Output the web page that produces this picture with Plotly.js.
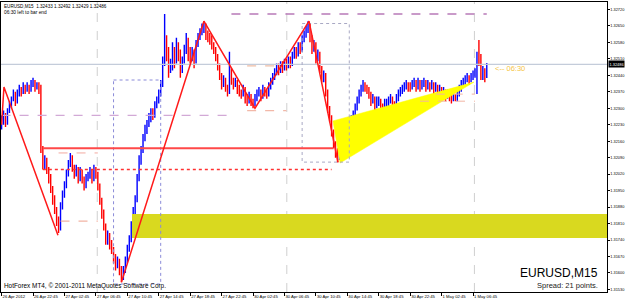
<!DOCTYPE html>
<html><head><meta charset="utf-8">
<script src="https://cdn.plot.ly/plotly-3.0.1.min.js"></script>
<style>html,body{margin:0;padding:0;background:#fff;overflow:hidden}#chart{width:625px;height:301px}</style>
</head><body><div id="chart"></div>
<script>
const symbol = 'EURUSD';
const timeframe = 'M15';
const spreadPoints = 21;
const timeLeft = '06:30';

const open = [
1.3222,1.3225,1.3227,1.3224,1.3229,1.3231,1.3234,1.3236,1.3233,1.3236,
1.3238,1.3237,1.3239,1.3238,1.3239,1.3238,1.3240,1.3241,1.3239,1.3240,
1.3238,1.3213,1.3206,1.3208,1.3204,1.3200,1.3196,1.3191,1.3187,1.3182,
1.3179,1.3189,1.3193,1.3197,1.3202,1.3206,1.3209,1.3205,1.3202,1.3204,
1.3200,1.3203,1.3200,1.3197,1.3200,1.3201,1.3203,1.3200,1.3204,1.3202,
1.3197,1.3191,1.3185,1.3180,1.3174,1.3176,1.3172,1.3170,1.3166,1.3163,
1.3165,1.3161,1.3158,1.3161,1.3165,1.3170,1.3174,1.3180,1.3186,1.3191,
1.3200,1.3208,1.3212,1.3217,1.3221,1.3223,1.3226,1.3228,1.3227,1.3231,
1.3233,1.3236,1.3240,1.3250,1.3259,1.3253,1.3246,1.3248,1.3255,1.3250,
1.3257,1.3253,1.3246,1.3250,1.3255,1.3259,1.3253,1.3251,1.3254,1.3250,
1.3257,1.3260,1.3262,1.3264,1.3265,1.3261,1.3260,1.3259,1.3257,1.3255,
1.3252,1.3248,1.3244,1.3240,1.3242,1.3239,1.3237,1.3246,1.3242,1.3240,
1.3241,1.3238,1.3237,1.3236,1.3238,1.3234,1.3233,1.3235,1.3233,1.3232,
1.3234,1.3236,1.3237,1.3235,1.3238,1.3237,1.3236,1.3239,1.3241,1.3243,
1.3245,1.3247,1.3246,1.3248,1.3247,1.3249,1.3248,1.3250,1.3249,1.3252,
1.3254,1.3253,1.3256,1.3255,1.3259,1.3261,1.3263,1.3265,1.3260,1.3255,
1.3257,1.3251,1.3253,1.3247,1.3243,1.3244,1.3237,1.3230,1.3226,1.3220,
1.3215,1.3211,1.3209,1.3214,1.3212,1.3218,1.3216,1.3223,1.3222,1.3225,
1.3227,1.3230,1.3233,1.3236,1.3238,1.3240,1.3239,1.3238,1.3236,1.3233,
1.3234,1.3231,1.3233,1.3233,1.3231,1.3230,1.3232,1.3232,1.3233,1.3234,
1.3232,1.3231,1.3234,1.3236,1.3237,1.3238,1.3239,1.3240,1.3239,1.3239,
1.3240,1.3241,1.3239,1.3241,1.3239,1.3240,1.3241,1.3239,1.3240,1.3239,
1.3240,1.3238,1.3239,1.3237,1.3238,1.3236,1.3237,1.3235,1.3236,1.3235,
1.3234,1.3235,1.3234,1.3236,1.3238,1.3240,1.3241,1.3242,1.3243,1.3242,
1.3243,1.3244,1.3245,1.3252,1.3249,1.3243,1.3246,1.32433];

const high = [
1.3227,1.3229,1.3228,1.3230,1.3233,1.3235,1.3238,1.3237,1.3238,1.3240,
1.3239,1.3241,1.3240,1.3241,1.3240,1.3242,1.3243,1.3242,1.3241,1.3241,
1.3240,1.3214,1.3210,1.3209,1.3205,1.3202,1.3197,1.3193,1.3188,1.3184,
1.3190,1.3195,1.3199,1.3204,1.3208,1.3211,1.3210,1.3206,1.3206,1.3205,
1.3205,1.3204,1.3201,1.3202,1.3203,1.3205,1.3204,1.3206,1.3205,1.3203,
1.3198,1.3192,1.3187,1.3181,1.3178,1.3177,1.3174,1.3171,1.3168,1.3167,
1.3166,1.3163,1.3163,1.3167,1.3172,1.3176,1.3182,1.3188,1.3193,1.3202,
1.3210,1.3214,1.3219,1.3223,1.3225,1.3228,1.3230,1.3230,1.3233,1.3235,
1.3238,1.3242,1.3252,1.3270,1.3261,1.3256,1.3251,1.3258,1.3256,1.3260,
1.3258,1.3255,1.3252,1.3257,1.3262,1.3260,1.3256,1.3256,1.3255,1.3259,
1.3262,1.3264,1.3266,1.3267,1.3266,1.3263,1.3262,1.3261,1.3258,1.3256,
1.3253,1.3249,1.3245,1.3244,1.3243,1.3240,1.3254,1.3247,1.3243,1.3243,
1.3242,1.3240,1.3238,1.3240,1.3239,1.3236,1.3237,1.3236,1.3234,1.3236,
1.3238,1.3239,1.3238,1.3240,1.3239,1.3238,1.3241,1.3243,1.3245,1.3247,
1.3249,1.3249,1.3250,1.3250,1.3251,1.3251,1.3252,1.3252,1.3254,1.3256,
1.3256,1.3258,1.3258,1.3261,1.3263,1.3265,1.3267,1.3266,1.3261,1.3259,
1.3258,1.3255,1.3254,1.3248,1.3246,1.3245,1.3238,1.3231,1.3227,1.3221,
1.3216,1.3213,1.3216,1.3215,1.3220,1.3219,1.3225,1.3225,1.3227,1.3229,
1.3232,1.3235,1.3238,1.3240,1.3242,1.3241,1.3240,1.3239,1.3237,1.3236,
1.3235,1.3235,1.3235,1.3234,1.3232,1.3234,1.3234,1.3235,1.3236,1.3235,
1.3233,1.3236,1.3238,1.3239,1.3240,1.3241,1.3242,1.3241,1.3241,1.3242,
1.3243,1.3242,1.3243,1.3242,1.3242,1.3243,1.3242,1.3242,1.3241,1.3242,
1.3241,1.3241,1.3240,1.3240,1.3239,1.3239,1.3238,1.3238,1.3237,1.3236,
1.3237,1.3236,1.3238,1.3240,1.3242,1.3243,1.3244,1.3245,1.3244,1.3245,
1.3246,1.3247,1.3254,1.3259,1.3253,1.3248,1.3247,1.32492];

const low = [
1.3221,1.3223,1.3222,1.3223,1.3228,1.3230,1.3233,1.3231,1.3232,1.3235,
1.3235,1.3236,1.3236,1.3237,1.3236,1.3237,1.3239,1.3237,1.3238,1.3236,
1.3211,1.3204,1.3204,1.3202,1.3198,1.3194,1.3189,1.3185,1.3180,1.3177,
1.3178,1.3187,1.3192,1.3196,1.3201,1.3205,1.3203,1.3200,1.3201,1.3198,
1.3199,1.3198,1.3195,1.3196,1.3199,1.3200,1.3198,1.3199,1.3200,1.3195,
1.3189,1.3183,1.3178,1.3172,1.3172,1.3170,1.3168,1.3164,1.3161,1.3162,
1.3159,1.3156,1.3157,1.3160,1.3164,1.3169,1.3173,1.3179,1.3185,1.3190,
1.3199,1.3206,1.3211,1.3216,1.3219,1.3222,1.3224,1.3225,1.3226,1.3230,
1.3232,1.3235,1.3239,1.3248,1.3250,1.3243,1.3245,1.3246,1.3247,1.3249,
1.3250,1.3243,1.3245,1.3249,1.3253,1.3250,1.3249,1.3250,1.3247,1.3249,
1.3256,1.3259,1.3261,1.3262,1.3259,1.3258,1.3257,1.3255,1.3253,1.3250,
1.3246,1.3242,1.3238,1.3239,1.3237,1.3235,1.3236,1.3240,1.3238,1.3239,
1.3236,1.3235,1.3234,1.3235,1.3232,1.3231,1.3232,1.3231,1.3230,1.3231,
1.3233,1.3235,1.3233,1.3234,1.3235,1.3234,1.3235,1.3238,1.3240,1.3242,
1.3244,1.3244,1.3245,1.3245,1.3246,1.3246,1.3247,1.3247,1.3248,1.3251,
1.3251,1.3252,1.3253,1.3254,1.3258,1.3260,1.3262,1.3258,1.3253,1.3254,
1.3249,1.3250,1.3245,1.3241,1.3241,1.3235,1.3228,1.3224,1.3218,1.3213,
1.3209,1.3207,1.3208,1.3210,1.3211,1.3214,1.3215,1.3220,1.3221,1.3224,
1.3226,1.3229,1.3232,1.3235,1.3237,1.3237,1.3236,1.3234,1.3231,1.3232,
1.3229,1.3230,1.3231,1.3229,1.3228,1.3229,1.3230,1.3231,1.3232,1.3230,
1.3229,1.3230,1.3233,1.3235,1.3236,1.3237,1.3238,1.3237,1.3237,1.3238,
1.3239,1.3237,1.3238,1.3237,1.3238,1.3239,1.3237,1.3238,1.3237,1.3238,
1.3236,1.3237,1.3235,1.3236,1.3234,1.3235,1.3233,1.3234,1.3233,1.3232,
1.3233,1.3233,1.3233,1.3235,1.3237,1.3239,1.3240,1.3241,1.3240,1.3241,
1.3242,1.3243,1.3236,1.3248,1.3242,1.3242,1.3241,1.32429];

const close = [
1.3225,1.3227,1.3224,1.3229,1.3231,1.3234,1.3236,1.3233,1.3236,1.3238,
1.3237,1.3239,1.3238,1.3239,1.3238,1.3240,1.3241,1.3239,1.3240,1.3238,
1.3213,1.3206,1.3208,1.3204,1.3200,1.3196,1.3191,1.3187,1.3182,1.3179,
1.3189,1.3193,1.3197,1.3202,1.3206,1.3209,1.3205,1.3202,1.3204,1.3200,
1.3203,1.3200,1.3197,1.3200,1.3201,1.3203,1.3200,1.3204,1.3202,1.3197,
1.3191,1.3185,1.3180,1.3174,1.3176,1.3172,1.3170,1.3166,1.3163,1.3165,
1.3161,1.3158,1.3161,1.3165,1.3170,1.3174,1.3180,1.3186,1.3191,1.3200,
1.3208,1.3212,1.3217,1.3221,1.3223,1.3226,1.3228,1.3227,1.3231,1.3233,
1.3236,1.3240,1.3250,1.3259,1.3253,1.3246,1.3248,1.3255,1.3250,1.3257,
1.3253,1.3246,1.3250,1.3255,1.3259,1.3253,1.3251,1.3254,1.3250,1.3257,
1.3260,1.3262,1.3264,1.3265,1.3261,1.3260,1.3259,1.3257,1.3255,1.3252,
1.3248,1.3244,1.3240,1.3242,1.3239,1.3237,1.3246,1.3242,1.3240,1.3241,
1.3238,1.3237,1.3236,1.3238,1.3234,1.3233,1.3235,1.3233,1.3232,1.3234,
1.3236,1.3237,1.3235,1.3238,1.3237,1.3236,1.3239,1.3241,1.3243,1.3245,
1.3247,1.3246,1.3248,1.3247,1.3249,1.3248,1.3250,1.3249,1.3252,1.3254,
1.3253,1.3256,1.3255,1.3259,1.3261,1.3263,1.3265,1.3260,1.3255,1.3257,
1.3251,1.3253,1.3247,1.3243,1.3244,1.3237,1.3230,1.3226,1.3220,1.3215,
1.3211,1.3209,1.3214,1.3212,1.3218,1.3216,1.3223,1.3222,1.3225,1.3227,
1.3230,1.3233,1.3236,1.3238,1.3240,1.3239,1.3238,1.3236,1.3233,1.3234,
1.3231,1.3233,1.3233,1.3231,1.3230,1.3232,1.3232,1.3233,1.3234,1.3232,
1.3231,1.3234,1.3236,1.3237,1.3238,1.3239,1.3240,1.3239,1.3239,1.3240,
1.3241,1.3239,1.3241,1.3239,1.3240,1.3241,1.3239,1.3240,1.3239,1.3240,
1.3238,1.3239,1.3237,1.3238,1.3236,1.3237,1.3235,1.3236,1.3235,1.3234,
1.3235,1.3234,1.3236,1.3238,1.3240,1.3241,1.3242,1.3243,1.3242,1.3243,
1.3244,1.3245,1.3252,1.3249,1.3243,1.3246,1.32433,1.32486];

const tickIdx = [0,16,32,48,64,80,96,112,128,144,160,176,192,208,224,240];
const tickText = ['26 Apr 2012','26 Apr 22:45','27 Apr 02:45','27 Apr 06:45','27 Apr 10:45','27 Apr 14:45','27 Apr 18:45','27 Apr 22:45','30 Apr 02:45','30 Apr 06:45','30 Apr 10:45','30 Apr 14:45','30 Apr 18:45','30 Apr 22:45','1 May 02:45','1 May 06:45'];
const priceTicks = [1.32720,1.32650,1.32580,1.32510,1.32440,1.32370,1.32300,1.32230,1.32160,1.32090,1.32020,1.31950,1.31880,1.31810,1.31740,1.31670,1.31600,1.31530];

const separatorIdx = [48.7, 145.2, 240.7];

const zigzag1X = [0, 1.2, 28.7];
const zigzag1Y = [1.3223, 1.3239, 1.3176];
const zigzag2X = [61, 103, 129, 156.5, 171.3];
const zigzag2Y = [1.3156, 1.3267, 1.3230, 1.3267, 1.3207];

const redLevelFrom = [21, 21];
const redLevelTo = [169, 168];
const redLevelPrice = [1.3213, 1.3204];

const dashFrom = [117, 0, 29, 30, 125, 125, 221, 213];
const dashTo = [247, 115, 49, 49, 143, 145, 241, 241];
const dashPrice = [1.3270, 1.3227, 1.3211, 1.3182, 1.3248, 1.3229, 1.3236, 1.3233];

const boxFrom = [57, 153];
const boxTo = [81, 177];
const boxTop = [1.3242, 1.3266];
const boxBottom = [1.31553, 1.32071];

const zoneFrom = 66.4, zoneTo = 320;
const zoneTop = 1.31851, zoneBottom = 1.31748;

const triangleX = [168.7, 172.3, 240.5];
const triangleY = [1.32246, 1.32067, 1.32411];

const timerIdx = 250.2;

// ---------- drawing ----------
const last = close.length - 1;
const barX = close.map((_, i) => i);
const FONT = 'Liberation Sans, Arial, sans-serif';
const traces = [];

traces.push({type:'scatter', mode:'lines', x:[zoneFrom,zoneTo,zoneTo,zoneFrom,zoneFrom], y:[zoneTop,zoneTop,zoneBottom,zoneBottom,zoneTop],
  fill:'toself', fillcolor:'#d9d91f', line:{width:0, color:'#d9d91f'}, hoverinfo:'skip'});
traces.push({type:'scatter', mode:'lines', x:triangleX.concat([triangleX[0]]), y:triangleY.concat([triangleY[0]]),
  fill:'toself', fillcolor:'#ffff00', line:{width:0.5, color:'#ffff00'}, hoverinfo:'skip'});
traces.push({type:'scatter', mode:'lines', x:[-1, 400], y:[close[last], close[last]], line:{color:'#c4ccda', width:1.3}, hoverinfo:'skip'});

const dashColors = ['#b879b8','#d2a9d6','#f2a9a0','#f2b4a4','#f0c0a8','#f2b8a8','#f2b4a4','#f2b4a4'];
const dashWidths = [1.5,1.3,1,1.3,1.3,1.3,1,1];
dashPrice.forEach((p, k) => {
  traces.push({type:'scatter', mode:'lines', x:[dashFrom[k], dashTo[k]], y:[p, p],
    line:{color:dashColors[k], width:dashWidths[k], dash:'dash'}, hoverinfo:'skip'});
});
const boxColors = ['#8a8ad8','#a8a8c4'];
boxFrom.forEach((b, k) => {
  traces.push({type:'scatter', mode:'lines', x:[b, boxTo[k], boxTo[k], b, b], y:[boxTop[k], boxTop[k], boxBottom[k], boxBottom[k], boxTop[k]],
    line:{color:boxColors[k], width:1, dash:'dot'}, hoverinfo:'skip'});
});

traces.push({type:'ohlc', x:barX, open:open, high:high, low:low, close:close, tickwidth:0.25,
  increasing:{line:{color:'#0000ff', width:1.4}}, decreasing:{line:{color:'#ff0000', width:1.4}}, hoverinfo:'skip'});

traces.push({type:'scatter', mode:'lines', x:[redLevelFrom[0], redLevelTo[0]], y:[redLevelPrice[0], redLevelPrice[0]], line:{color:'#ff4848', width:2}, hoverinfo:'skip'});
traces.push({type:'scatter', mode:'lines', x:[redLevelFrom[1], redLevelTo[1]], y:[redLevelPrice[1], redLevelPrice[1]], line:{color:'#ff3030', width:1.5, dash:'dot'}, hoverinfo:'skip'});
traces.push({type:'scatter', mode:'lines', x:zigzag1X, y:zigzag1Y, line:{color:'#ff1a1a', width:1.5}, hoverinfo:'skip'});
traces.push({type:'scatter', mode:'lines', x:zigzag2X, y:zigzag2Y, line:{color:'#ff1a1a', width:1.5}, hoverinfo:'skip'});

const shapes = separatorIdx.map(s => ({type:'line', xref:'x', yref:'paper', x0:s, x1:s, y0:0, y1:1, layer:'below',
  line:{color:'#cfcfcf', width:1, dash:'dash'}}));

const fmt = v => v.toFixed(5);
const annotations = [
  {xref:'paper', yref:'paper', x:0, y:1, xanchor:'left', yanchor:'top', xshift:1, yshift:0, showarrow:false,
   text: symbol + ',' + timeframe + '  ' + [open[last], high[last], low[last], close[last]].map(fmt).join(' '),
   font:{family:FONT, size:4.6, color:'#000'}},
  {xref:'paper', yref:'paper', x:0, y:1, xanchor:'left', yanchor:'top', xshift:1, yshift:-6, showarrow:false,
   text: timeLeft + ' left to bar end', font:{family:FONT, size:4.8, color:'#000'}},
  {xref:'paper', yref:'paper', x:0, y:0, xanchor:'left', yanchor:'bottom', xshift:1, yshift:0, showarrow:false,
   text:'HotForex MT4, © 2001-2011 MetaQuotes Software Corp.', font:{family:FONT, size:6.4, color:'#000'}},
  {xref:'paper', yref:'paper', x:0.9884, y:0.0655, xanchor:'right', yanchor:'middle', showarrow:false,
   text: symbol + ',' + timeframe, font:{family:FONT, size:12, color:'#000'}},
  {xref:'paper', yref:'paper', x:0.9884, y:0.024, xanchor:'right', yanchor:'middle', showarrow:false,
   text:'Spread: ' + spreadPoints + ' points.', font:{family:FONT, size:7.5, color:'#222'}},
  {xref:'x', yref:'y', x:timerIdx, y:1.32467, xanchor:'left', yanchor:'middle', showarrow:false,
   text:'<-- ' + timeLeft, font:{family:FONT, size:7.5, color:'#f5c443'}},
  {xref:'paper', yref:'y', x:1, y:close[last], xanchor:'left', yanchor:'middle', showarrow:false, xshift:0.5,
   text: fmt(close[last]), bgcolor:'#000', borderpad:0.5, font:{family:FONT, size:3.9, color:'#fff'}}
];

const layout = {
  width:625, height:301, margin:{l:1, r:18, t:2, b:9},
  paper_bgcolor:'#fff', plot_bgcolor:'#fff', showlegend:false,
  xaxis:{range:[-0.3, 308.2], tickvals:tickIdx, ticktext:tickText, ticks:'outside', ticklen:3, tickcolor:'#000',
    tickangle:0, automargin:false,
    ticklabelposition:'outside right', tickfont:{family:FONT, size:4.2, color:'#000'}, showgrid:false, zeroline:false,
    showline:true, mirror:true, linecolor:'#000', linewidth:1, rangeslider:{visible:false}, fixedrange:true},
  yaxis:{side:'right', range:[1.31519, 1.327515], tickvals:priceTicks, tickformat:'.5f', ticks:'outside', ticklen:1.5, tickcolor:'#000',
    automargin:false, ticklabelstandoff:0,
    tickfont:{family:FONT, size:3.9, color:'#000'}, showgrid:false, zeroline:false, showline:true, mirror:true,
    linecolor:'#000', linewidth:1, fixedrange:true},
  shapes:shapes, annotations:annotations
};
Plotly.newPlot('chart', traces, layout, {staticPlot:true, displayModeBar:false});
</script></body></html>
